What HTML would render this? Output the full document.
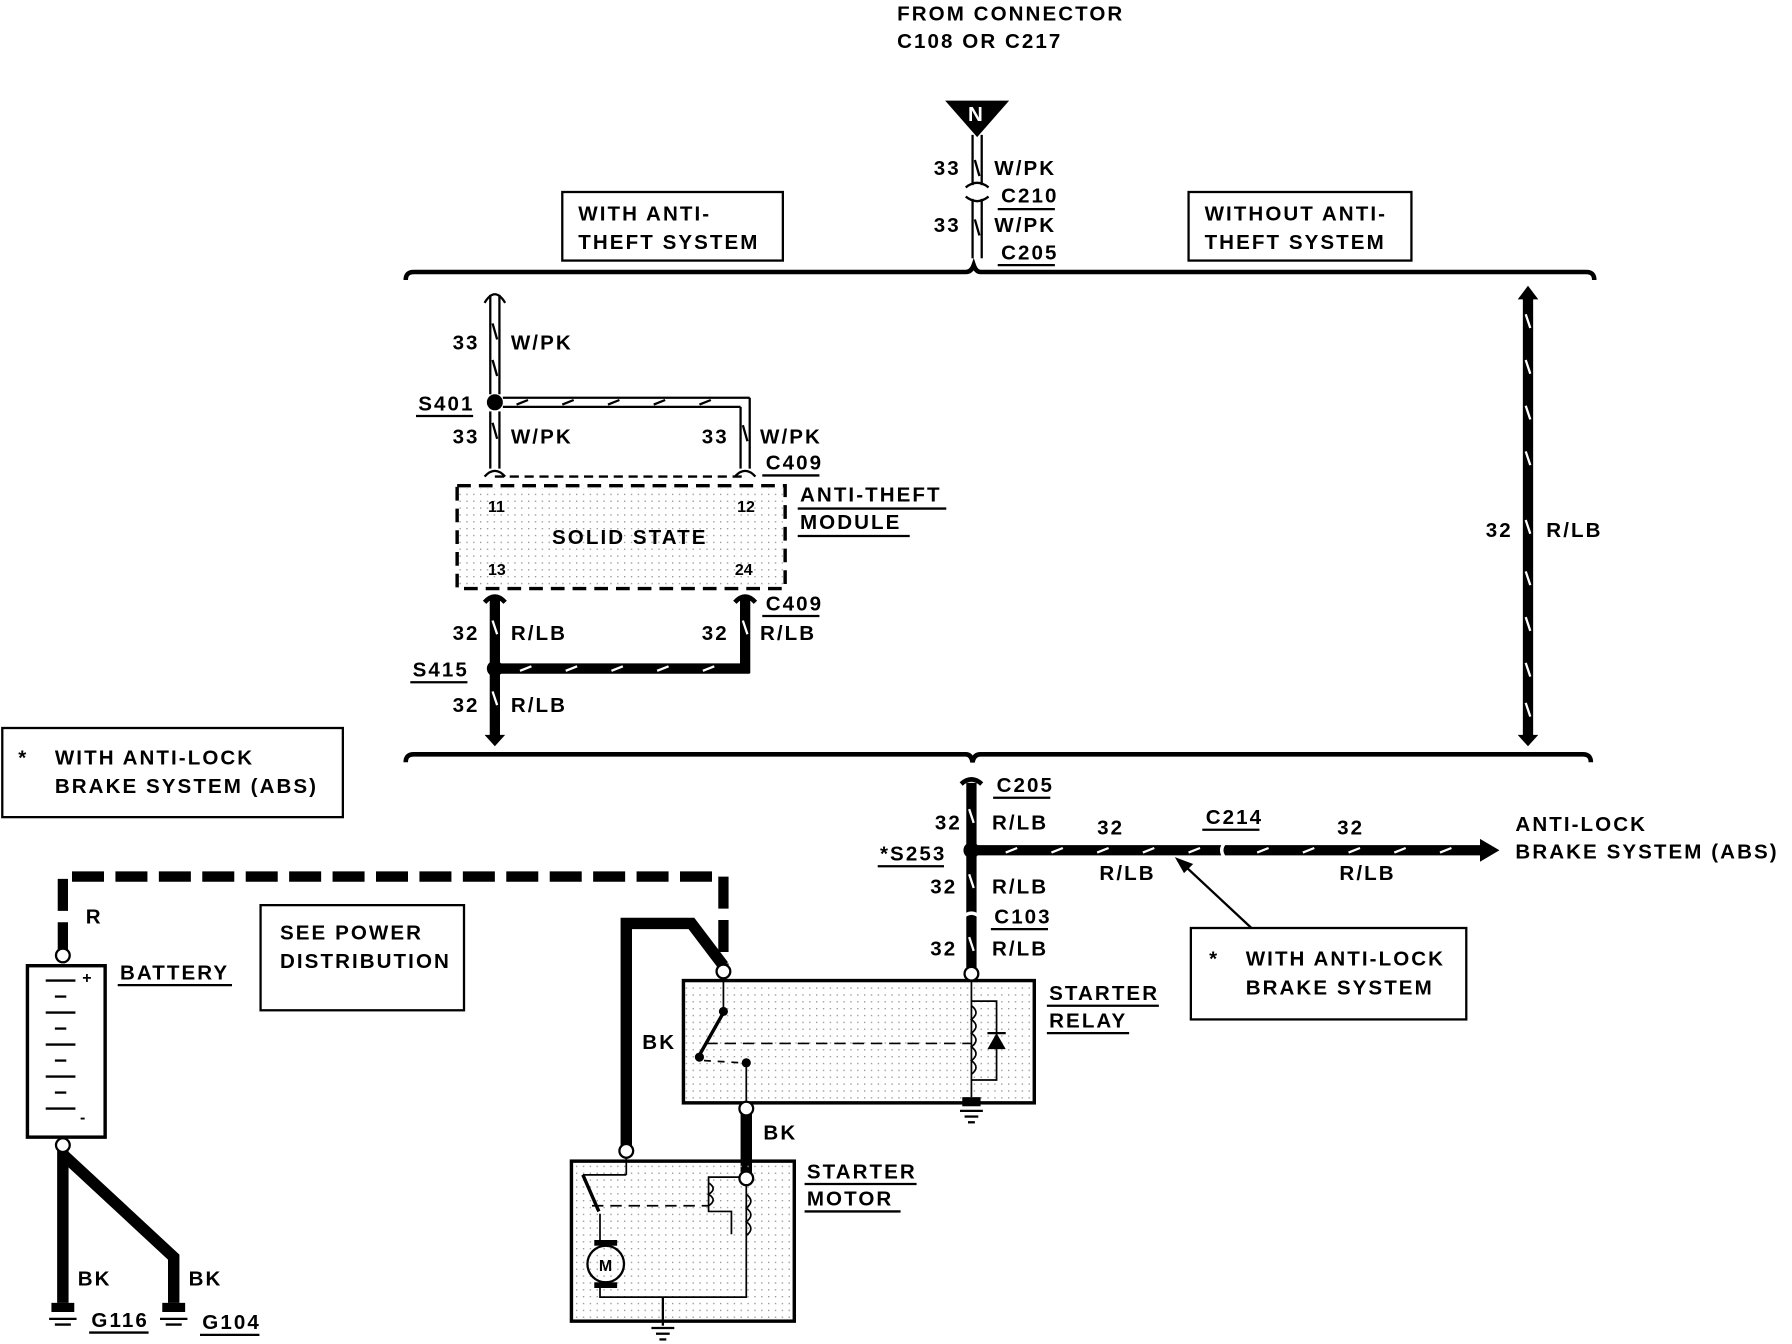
<!DOCTYPE html>
<html><head><meta charset="utf-8"><style>
html,body{margin:0;padding:0;background:#fff;}
svg{display:block;}
text{font-family:"Liberation Sans",sans-serif;font-weight:bold;font-size:18px;fill:#000;letter-spacing:1.8px;}
.s{font-size:14px;letter-spacing:0;}
</style></head><body>
<svg width="1792" height="1344" viewBox="0 0 1568 1176" xmlns="http://www.w3.org/2000/svg">
<defs>
<pattern id="dots" width="6" height="6" patternUnits="userSpaceOnUse"><rect width="1.2" height="1.2" fill="#999"/></pattern>
</defs>
<rect width="1568" height="1176" fill="#fff"/>
<text x="785" y="18">FROM CONNECTOR</text>
<text x="785" y="42">C108 OR C217</text>
<polygon points="827,88 883,88 855,120" fill="#000"/>
<text x="847" y="106" style="fill:#fff">N</text>
<g stroke="#000" stroke-width="2" fill="none">
<line x1="851" y1="118" x2="851" y2="162"/><line x1="859" y1="118" x2="859" y2="162"/>
<path d="M845,164 Q855,156 865,164"/><path d="M845,172 Q855,180 865,172"/>
<line x1="851" y1="174" x2="851" y2="226"/><line x1="859" y1="174" x2="859" y2="226"/>
<path d="M853,140 l4,14 M853,192 l4,14"/>
<path d="M355,245 Q355,238 362,238 L845,238 Q850,238 852,232 Q854,238 858,238 L1388,238 Q1395,238 1395,245" stroke-width="4"/>
<path d="M355,667 Q355,660 362,660 L845,660 Q850,660 851,667 Q852,660 858,660 L1385,660 Q1392,660 1392,667" stroke-width="4"/>
</g>
<text x="817" y="153">33</text><text x="870" y="153">W/PK</text>
<text x="876" y="177">C210</text><line x1="873" y1="183" x2="923" y2="183" stroke="#000" stroke-width="2"/>
<text x="817" y="203">33</text><text x="870" y="203">W/PK</text>
<text x="876" y="227">C205</text><line x1="873" y1="232" x2="923" y2="232" stroke="#000" stroke-width="2"/>
<rect x="492" y="168" width="193" height="60" fill="none" stroke="#000" stroke-width="2"/>
<text x="506" y="193">WITH ANTI-</text><text x="506" y="218">THEFT SYSTEM</text>
<rect x="1040" y="168" width="195" height="60" fill="none" stroke="#000" stroke-width="2"/>
<text x="1054" y="193">WITHOUT ANTI-</text><text x="1054" y="218">THEFT SYSTEM</text>
<g stroke="#000" stroke-width="2" fill="none">
<path d="M424,265 Q433,250 442,265"/>
<line x1="429" y1="258" x2="429" y2="345"/><line x1="437" y1="258" x2="437" y2="345"/>
<path d="M431,283 l4,14 M431,315 l4,14 M431,370 l4,14"/>
<line x1="429" y1="360" x2="429" y2="410"/><line x1="437" y1="360" x2="437" y2="410"/>
<path d="M424,417 Q433,407 442,417"/>
<line x1="440" y1="348" x2="656" y2="348"/><line x1="440" y1="356" x2="648" y2="356"/>
<line x1="656" y1="348" x2="656" y2="410"/><line x1="648" y1="356" x2="648" y2="410"/>
<path d="M643,417 Q652,407 661,417"/>
<path d="M650,372 l4,14"/>
<path d="M452,354 l10,-4 M492,354 l10,-4 M532,354 l10,-4 M572,354 l10,-4 M612,354 l10,-4"/>
<line x1="433" y1="417" x2="652" y2="417" stroke-dasharray="8,5"/>
<rect x="400" y="425" width="287" height="90" stroke-width="3" stroke-dasharray="12,7"/>
<path d="M424,527 Q433,517 442,527 M643,527 Q652,517 661,527" stroke-width="4"/>
</g>
<rect x="402" y="427" width="283" height="86" fill="url(#dots)"/>
<circle cx="433" cy="352" r="7" fill="#000"/>
<text x="366" y="359">S401</text><line x1="364" y1="364" x2="414" y2="364" stroke="#000" stroke-width="2"/>
<text x="396" y="306">33</text><text x="447" y="306">W/PK</text>
<text x="396" y="388">33</text><text x="447" y="388">W/PK</text>
<text x="614" y="388">33</text><text x="665" y="388">W/PK</text>
<text x="670" y="411">C409</text><line x1="667" y1="416" x2="717" y2="416" stroke="#000" stroke-width="2"/>
<text class="s" x="427" y="448">11</text><text class="s" x="645" y="448">12</text>
<text class="s" x="427" y="503">13</text><text class="s" x="643" y="503">24</text>
<text x="483" y="476">SOLID STATE</text>
<text x="700" y="439">ANTI-THEFT</text><line x1="698" y1="445" x2="828" y2="445" stroke="#000" stroke-width="2"/>
<text x="700" y="463">MODULE</text><line x1="698" y1="469" x2="796" y2="469" stroke="#000" stroke-width="2"/>
<g stroke="#000" fill="none">
<line x1="433" y1="523" x2="433" y2="645" stroke-width="9"/>
<line x1="652" y1="523" x2="652" y2="589" stroke-width="9"/>
<line x1="433" y1="585" x2="656" y2="585" stroke-width="9"/>
<line x1="1337" y1="258" x2="1337" y2="645" stroke-width="9"/>
<line x1="850" y1="685" x2="850" y2="850" stroke-width="9"/>
<line x1="850" y1="744" x2="1300" y2="744" stroke-width="9"/>
</g>
<g stroke="#fff" stroke-width="2" fill="none">
<path d="M455,587 l10,-4 M495,587 l10,-4 M535,587 l10,-4 M575,587 l10,-4 M615,587 l10,-4"/>
<path d="M431,543 l4,12 M650,543 l4,12 M431,605 l4,12"/>
<path d="M1335,275 l4,12 M1335,315 l4,12 M1335,355 l4,12 M1335,395 l4,12 M1335,455 l4,12 M1335,500 l4,12 M1335,540 l4,12 M1335,580 l4,12 M1335,615 l4,12"/>
<path d="M848,708 l4,12 M848,765 l4,12 M848,820 l4,12"/>
<path d="M880,746 l10,-4 M920,746 l10,-4 M960,746 l10,-4 M1000,746 l10,-4 M1040,746 l10,-4 M1100,746 l10,-4 M1140,746 l10,-4 M1180,746 l10,-4 M1220,746 l10,-4 M1260,746 l10,-4"/>
</g>
<polygon points="424,643 442,643 433,653" fill="#000"/>
<polygon points="1328,262 1346,262 1337,250" fill="#000"/>
<polygon points="1328,643 1346,643 1337,653" fill="#000"/>
<polygon points="1295,734 1312,744 1295,754" fill="#000"/>
<path d="M841,686 Q850,678 859,686" stroke="#000" stroke-width="4" fill="none"/>
<path d="M841,804 Q850,794 859,804" stroke="#fff" stroke-width="3" fill="none"/>
<path d="M1072,737 Q1066,744 1072,751" stroke="#fff" stroke-width="3" fill="none"/>
<circle cx="433" cy="585" r="7" fill="#000"/>
<circle cx="850" cy="744" r="7" fill="#000"/>
<text x="396" y="560">32</text><text x="447" y="560">R/LB</text>
<text x="614" y="560">32</text><text x="665" y="560">R/LB</text>
<text x="670" y="534">C409</text><line x1="667" y1="539" x2="717" y2="539" stroke="#000" stroke-width="2"/>
<text x="361" y="592">S415</text><line x1="359" y1="597" x2="409" y2="597" stroke="#000" stroke-width="2"/>
<text x="396" y="623">32</text><text x="447" y="623">R/LB</text>
<text x="1300" y="470">32</text><text x="1353" y="470">R/LB</text>
<text x="872" y="693">C205</text><line x1="869" y1="698" x2="919" y2="698" stroke="#000" stroke-width="2"/>
<text x="818" y="726">32</text><text x="868" y="726">R/LB</text>
<text x="770" y="753">*S253</text><line x1="768" y1="758" x2="826" y2="758" stroke="#000" stroke-width="2"/>
<text x="814" y="782">32</text><text x="868" y="782">R/LB</text>
<text x="870" y="808">C103</text><line x1="867" y1="813" x2="917" y2="813" stroke="#000" stroke-width="2"/>
<text x="814" y="836">32</text><text x="868" y="836">R/LB</text>
<text x="960" y="730">32</text><text x="962" y="770">R/LB</text>
<text x="1055" y="721">C214</text><line x1="1052" y1="726" x2="1102" y2="726" stroke="#000" stroke-width="2"/>
<text x="1170" y="730">32</text><text x="1172" y="770">R/LB</text>
<text x="1326" y="727">ANTI-LOCK</text><text x="1326" y="751">BRAKE SYSTEM (ABS)</text>
<rect x="1042" y="812" width="241" height="80" fill="none" stroke="#000" stroke-width="2"/>
<text x="1058" y="845">*</text><text x="1090" y="845">WITH ANTI-LOCK</text><text x="1090" y="870">BRAKE SYSTEM</text>
<line x1="1095" y1="812" x2="1035" y2="756" stroke="#000" stroke-width="2"/>
<polygon points="1028,750 1044,756 1036,764" fill="#000"/>
<rect x="2" y="637" width="298" height="78" fill="none" stroke="#000" stroke-width="2"/>
<text x="16" y="669">*</text><text x="48" y="669">WITH ANTI-LOCK</text><text x="48" y="694">BRAKE SYSTEM (ABS)</text>
<path d="M55,835 L55,767 L633,767 L633,850" stroke="#000" stroke-width="9" fill="none" stroke-dasharray="28,10"/>
<text x="75" y="808">R</text>
<rect x="228" y="792" width="178" height="92" fill="none" stroke="#000" stroke-width="2"/>
<text x="245" y="822">SEE POWER</text><text x="245" y="847">DISTRIBUTION</text>
<rect x="24" y="845" width="68" height="150" fill="none" stroke="#000" stroke-width="3"/>
<g stroke="#000" stroke-width="2">
<line x1="40" y1="858" x2="66" y2="858"/><line x1="48" y1="872" x2="58" y2="872"/>
<line x1="40" y1="886" x2="66" y2="886"/><line x1="48" y1="900" x2="58" y2="900"/>
<line x1="40" y1="914" x2="66" y2="914"/><line x1="48" y1="928" x2="58" y2="928"/>
<line x1="40" y1="942" x2="66" y2="942"/><line x1="48" y1="956" x2="58" y2="956"/>
<line x1="40" y1="970" x2="66" y2="970"/>
</g>
<text class="s" x="72" y="860">+</text><text class="s" x="70" y="982">-</text>
<text x="105" y="857">BATTERY</text><line x1="103" y1="862" x2="203" y2="862" stroke="#000" stroke-width="2"/>
<g stroke="#000" stroke-width="10" fill="none">
<line x1="55" y1="1005" x2="55" y2="1140"/>
<path d="M55,1010 L152,1100 L152,1140"/>
<path d="M548,1005 L548,808 L605,808 L633,845"/>
<line x1="653" y1="970" x2="653" y2="1028"/>
<line x1="850" y1="850" x2="850" y2="858"/>
</g>
<circle cx="55" cy="836" r="6" fill="#fff" stroke="#000" stroke-width="2"/>
<circle cx="55" cy="1002" r="6" fill="#fff" stroke="#000" stroke-width="2"/>
<text x="68" y="1125">BK</text><text x="165" y="1125">BK</text>
<g fill="#000"><rect x="45" y="1140" width="20" height="8"/><rect x="142" y="1140" width="20" height="8"/></g>
<g stroke="#000" stroke-width="2"><line x1="43" y1="1154" x2="67" y2="1154"/><line x1="48" y1="1159" x2="62" y2="1159"/><line x1="140" y1="1154" x2="164" y2="1154"/><line x1="145" y1="1159" x2="159" y2="1159"/></g>
<text x="80" y="1161">G116</text><line x1="78" y1="1166" x2="130" y2="1166" stroke="#000" stroke-width="2"/>
<text x="177" y="1163">G104</text><line x1="175" y1="1168" x2="227" y2="1168" stroke="#000" stroke-width="2"/>
<rect x="598" y="858" width="307" height="107" fill="url(#dots)" stroke="#000" stroke-width="3"/>
<g stroke="#000" stroke-width="1.5" fill="none">
<line x1="633" y1="858" x2="633" y2="886"/>
<line x1="633" y1="886" x2="611" y2="925" stroke-width="3"/>
<line x1="618" y1="913" x2="850" y2="913" stroke-dasharray="10,6"/>
<line x1="616" y1="928" x2="650" y2="930" stroke-dasharray="6,6"/>
<line x1="653" y1="930" x2="653" y2="965"/>
<line x1="850" y1="858" x2="850" y2="960"/>
<path d="M850,876 L872,876 L872,945 L850,945"/>
<path d="M850,880 q8,6 0,12 q8,6 0,12 q8,6 0,12 q8,6 0,12 q8,6 0,12"/>
<line x1="864" y1="904" x2="880" y2="904" stroke-width="2"/>
<line x1="845" y1="963" x2="857" y2="963" stroke-width="2"/>
<line x1="840" y1="972" x2="860" y2="972" stroke-width="2"/><line x1="844" y1="977" x2="856" y2="977" stroke-width="2"/><line x1="847" y1="982" x2="853" y2="982" stroke-width="2"/>
</g>
<polygon points="864,918 880,918 872,904" fill="#000"/>
<rect x="842" y="960" width="16" height="8" fill="#000"/>
<circle cx="633" cy="885" r="4" fill="#000"/><circle cx="612" cy="925" r="4" fill="#000"/><circle cx="653" cy="930" r="4" fill="#000"/>
<circle cx="633" cy="850" r="6" fill="#fff" stroke="#000" stroke-width="2"/>
<circle cx="850" cy="852" r="6" fill="#fff" stroke="#000" stroke-width="2"/>
<circle cx="653" cy="970" r="6" fill="#fff" stroke="#000" stroke-width="2"/>
<text x="562" y="918">BK</text>
<text x="918" y="875">STARTER</text><line x1="916" y1="880" x2="1014" y2="880" stroke="#000" stroke-width="2"/>
<text x="918" y="899">RELAY</text><line x1="916" y1="904" x2="988" y2="904" stroke="#000" stroke-width="2"/>
<text x="668" y="997">BK</text>
<rect x="500" y="1016" width="195" height="140" fill="url(#dots)" stroke="#000" stroke-width="3"/>
<g stroke="#000" stroke-width="1.5" fill="none">
<line x1="548" y1="1005" x2="548" y2="1028"/>
<line x1="510" y1="1028" x2="524" y2="1060" stroke-width="3"/>
<line x1="510" y1="1028" x2="548" y2="1028"/>
<line x1="518" y1="1055" x2="620" y2="1055" stroke-dasharray="10,6"/>
<line x1="653" y1="1028" x2="653" y2="1110"/>
<path d="M653,1030 L620,1030 L620,1060 L640,1060 L640,1080"/>
<path d="M620,1035 q8,5 0,10 q8,5 0,10"/>
<path d="M653,1045 q8,6 0,12 q8,6 0,12 q8,6 0,12"/>
<path d="M653,1110 L653,1135 L525,1135 L525,1122"/>
<path d="M525,1090 L525,1062"/>
<circle cx="530" cy="1106" r="16" stroke-width="2"/>
<line x1="580" y1="1135" x2="580" y2="1160" stroke-width="2"/>
<line x1="570" y1="1162" x2="590" y2="1162" stroke-width="2"/><line x1="574" y1="1167" x2="586" y2="1167" stroke-width="2"/><line x1="577" y1="1172" x2="583" y2="1172" stroke-width="2"/>
</g>
<rect x="520" y="1085" width="20" height="5" fill="#000"/><rect x="520" y="1122" width="20" height="5" fill="#000"/>
<text class="s" x="524" y="1112">M</text>
<circle cx="548" cy="1007" r="6" fill="#fff" stroke="#000" stroke-width="2"/>
<circle cx="653" cy="1031" r="6" fill="#fff" stroke="#000" stroke-width="2"/>
<text x="706" y="1031">STARTER</text><line x1="704" y1="1036" x2="802" y2="1036" stroke="#000" stroke-width="2"/>
<text x="706" y="1055">MOTOR</text><line x1="704" y1="1060" x2="788" y2="1060" stroke="#000" stroke-width="2"/>
</svg>
</body></html>
